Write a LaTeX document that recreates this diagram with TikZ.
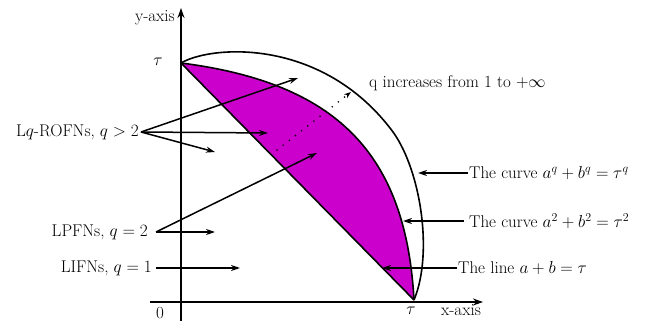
\documentclass[tikz,border=0pt]{standalone}
\usepackage{amsmath}
\usetikzlibrary{arrows.meta, positioning}
\definecolor{regionfill}{RGB}{204,0,204}

\begin{document}
\begin{tikzpicture}[
    x=1pt, y=-1pt,
    lbl/.style={font=\fontsize{17}{20}\selectfont, inner sep=1pt},
    arrow/.style={-{Stealth[length=9pt, width=6pt]}, line width=1.5pt},
    axis/.style={-{Stealth[length=10pt, width=7pt]}, line width=1.6pt},
    curve/.style={line width=1.6pt},
    dots/.style={-{Stealth[length=7pt, width=5pt]}, line width=1.8pt, line cap=round, dash pattern=on 0pt off 7.8pt}
]
\useasboundingbox (0,0) rectangle (646,321);

% points on the axes
\coordinate (tauy) at (181,63);
\coordinate (taux) at (414,300);
\coordinate (ybot) at (181,321);
\coordinate (ytop) at (181,8);
\coordinate (xbeg) at (150,302);
\coordinate (xend) at (483,302);
\coordinate (bend) at (390,128);

% shaded region between the line and the circle
\fill[regionfill] (taux) -- (tauy) .. controls (338,83) and (406,155) .. (taux) -- cycle;
\draw[curve] (tauy) -- (taux);
\draw[curve] (tauy) .. controls (338,83) and (406,155) .. (taux);
\draw[curve] (tauy) .. controls (212,45) and (320,38) .. (bend)
    .. controls (420,165) and (434,252) .. (taux);

% axes
\draw[axis] (ybot) -- (ytop);
\draw[axis] (xbeg) -- (xend);

\node[lbl, anchor=base east] (ylabel) at (176,22) {y-axis};
\node[lbl] (tauylabel) at (158,62) {$\tau$};
\node[lbl] (zero) at (160,313) {0};
\node[lbl] (tauxlabel) at (411,311) {$\tau$};
\node[lbl] (xlabel) at (461,310) {x-axis};

% labels on the left
\node[lbl, anchor=east] (rofn) at (140,132) {L$q$-ROFNs, $q>2$};
\node[lbl, anchor=east] (lpfn) at (149,232) {LPFNs, $q=2$};
\node[lbl, anchor=east] (lifn) at (153,268) {LIFNs, $q=1$};
\coordinate[right=1pt of rofn] (rofnout);
\coordinate[right=7pt of lpfn] (lpfnout);
\coordinate[right=3pt of lifn] (lifnout);

\coordinate (rofnA) at (298,78);
\coordinate (rofnB) at (268,133);
\coordinate (rofnC) at (215,152);
\coordinate (lpfnA) at (317,153);
\coordinate (lpfnB) at (215,232);
\coordinate (lifnA) at (240,268);

\draw[arrow] (rofnout) -- (rofnA);
\draw[arrow] (rofnout) -- (rofnB);
\draw[arrow] (rofnout) -- (rofnC);
\draw[arrow] (lpfnout) -- (lpfnA);
\draw[arrow] (lpfnout) -- (lpfnB);
\draw[arrow] (lifnout) -- (lifnA);

% labels on the right
\node[lbl, anchor=west] (incr) at (368,83) {q increases from 1 to $+\infty$};
\node[lbl, anchor=west] (curveq) at (468,173) {The curve $a^q+b^q=\tau^q$};
\node[lbl, anchor=west] (curvetwo) at (468,221) {The curve $a^2+b^2=\tau^2$};
\node[lbl, anchor=west] (linelbl) at (457,268) {The line $a+b=\tau$};
\coordinate[left=4pt of curvetwo] (curvetwoout);

\coordinate (curveqA) at (418,173);
\coordinate (curvetwoA) at (403,221);
\coordinate (lineA) at (382,268);
\coordinate (dotbeg) at (277,150);
\coordinate (dotend) at (351,92);

\draw[arrow] (curveq.west) -- (curveqA);
\draw[arrow] (curvetwoout) -- (curvetwoA);
\draw[arrow] (linelbl.west) -- (lineA);
\draw[dots] (dotbeg) -- (dotend);
\end{tikzpicture}
\end{document}
